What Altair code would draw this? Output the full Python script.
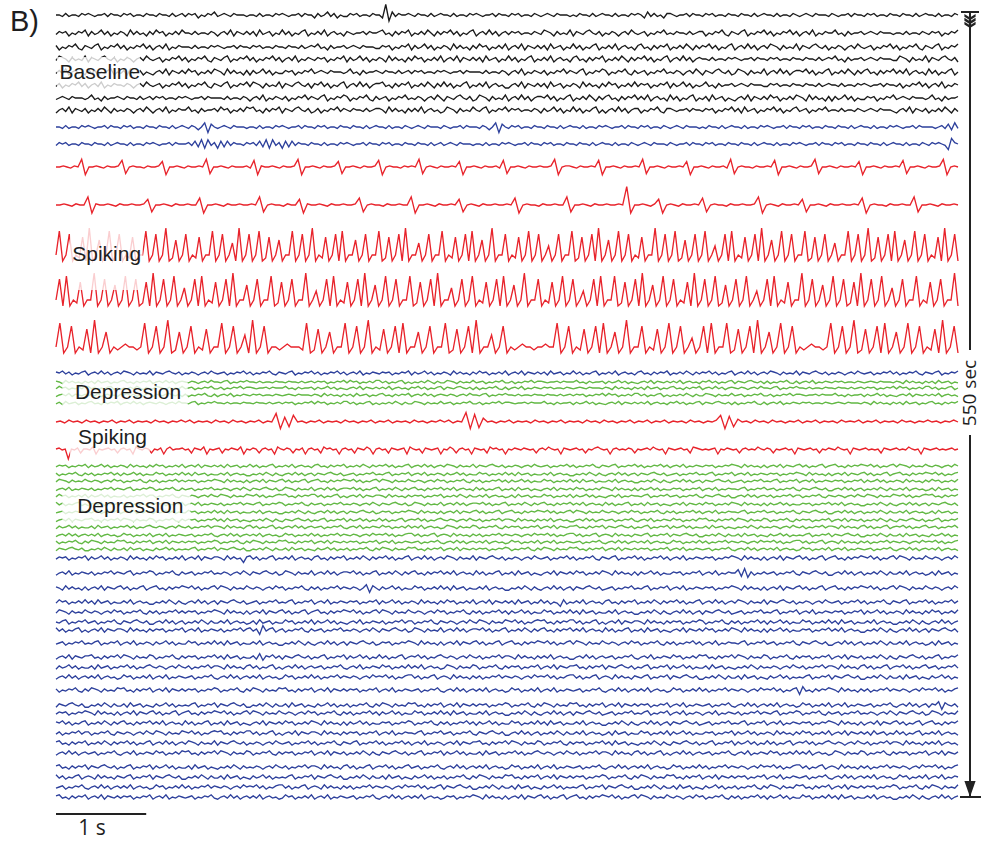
import altair as alt
import pandas as pd

# ---------------- data ----------------
# typed 10-sample snippets of background EEG (level 5 = trace baseline)
noise_chunks = {
    "A": "4656354657", "B": "3645746354", "C": "6537464536", "D": "4756354647",
    "E": "3564736546", "F": "4637456354", "G": "7463546735", "H": "4647356453",
    "I": "6745364657", "J": "3546475364", "K": "6574635467", "L": "3564746356",
    "M": "4765364547", "N": "3654675463", "O": "5465356475", "P": "4563546574",
    "Q": "6354657436", "R": "5467354657", "S": "4635465746", "T": "3564735465",
    "U": "5546455465", "V": "6545564655", "W": "4656455465", "X": "5465546456",
    "Y": "5745364556", "Z": "4565465554",
    "a": "53c1746556", "b": "5647382846", "c": "2737465546", "d": "5545647384",
    "e": "4656541965", "f": "6537464516", "g": "5829163546", "h": "5465358175",
    "i": "7463541735", "j": "7461946735", "k": "4638265746", "l": "1845364657",
    "m": "3658175463",
}

# one entry per trace, top to bottom
trace_groups = (["k"] * 8 + ["b"] * 2 + ["r"] * 5 + ["b"] + ["g"] * 4 + ["r"] * 2
                + ["g"] * 12 + ["b"] * 22)
trace_offsets = [15, 33, 47, 59, 72, 85, 98, 110,
                 127, 144,
                 167, 205, 255, 300, 347,
                 373,
                 382, 388, 395, 403,
                 422, 449,
                 466, 474, 481, 489, 496, 504, 512, 520, 527, 535, 542, 549,
                 558, 573, 588, 602, 612, 622, 630, 643, 657, 667, 677,
                 690, 705, 713, 723, 733, 743, 753, 767, 777, 787, 797]
trace_gains = ([1.5] * 8 + [1.4] * 2 + [1.1, 1.15, 3.0, 3.0, 3.0] + [1.0] + [0.8] * 4
               + [0.95, 1.0] + [0.85] * 12 + [1.1] * 22)
trace_centers = ([5] * 10 + [7, 7, 2, 2, 2] + [5] * 5 + [7, 10] + [5] * 34)
# "c:" = sequence of snippets from noise_chunks, "s:" = samples typed directly
trace_samples = [
    # black (baseline)
    "c:UVWXAZUVBWaXUVWZXUCVWXUZVWXU",
    "c:ABCDUEFGHVIJKLWMNOPXQRSTYZUA",
    "c:QRSTUVWXYZABCDEFGHIJKLMNOPQR",
    "c:MNOPQRSTABCDEFGHIJKLUVWXYZMN",
    "c:HGFEDCBAZYXWVUTSRQPONMLKJIHG",
    "c:STOPQRMNKLIJGHEFCDABYZWXUVST",
    "c:ZYXWVUTSRQPONMLKJIHGFEDCBAZY",
    "c:EJOTYDINSXCHMRWBGLQVAFKPUZEJ",
    # blue
    "c:UVWXhZUVWXUZVhWXUVWZXUVWXUVd",
    "c:WXUVbcbcUVWXZUVWXUZVWXUVWXUe",
    # red spiking
    "s:7787687e0778768778d1787768778c07787687787e177876877786d08778768778e0778768778c1778768778d07877687"
    "87e1787687787c07787687786d1778768778778e07887687787d07787687787e17787687787c07787687786e178776877"
    "87d0778768778e17787687787c07787687787d1778768778e0787",
    "s:77876877e08778768778778c177876877877d07787687787787e178776877c08778768778778d178776877877e0778768"
    "7787c1787687787787d078776877877e17787687787787n0778768c0787687787d1787768778778e0787687787c177876"
    "87787787d078776877877e17787687787",
    "s:2a02902180b02702a0290218022a02902b0170290218022a0290260b02902a018027022a02902b02180290a0227029022a"
    "0180290b0226029022a02180290a02702b0229021802a029025029022a0180290b02702a0290218022b02902a0170290"
    "2a0250290a02180290b02702a029022a018029026022a02902b0180290a02702a02902180b0290",
    "s:290a0218022b02902702a0290180b02902a0260290a02180290b0227029022a018029022b0250290a02180290b02702a0"
    "29022a0180290b022602902a02180290a02702b0229021802a0290250290a022a0180290b02702a02902180b02902a01"
    "702902a0250290a0218022b02902702a0290180b02902a026029022a0218029022b0",
    "s:2a02902180b027021232212a02902b0170290218022a0290260b0290221232221a018027022a02902b02180290a02270"
    "29022a0180290b02260290212322122322a02902180290a02702b0229021802a0290250290a022a0180290b02702a0290"
    "21232212a02902b0180290a02702a02902180b0290",
    # blue
    "c:KLMNOPQRSTABCDEFGHIJKLMNOPQR",
    # green depression
    "c:CFILORUXADGJMPSVYBEHKNQTWZCF",
    "c:DGJMPSVYBEHKNQTWZCFILORUXADG",
    "c:EHKNQTWZCFILORUXADGJMPSVYBEH",
    "c:FILORUXADGJMPSVYBEHKNQTWZCFI",
    # red spiking (second episode)
    "s:78697869786879687968786978687979687869786978687968"
    "7g0c2e78687968786978687968796878697868797968 7h0f1b"
    "78687968786978687968786978697868796879687968786978"
    "6879e0d2a786978697868796879687869787968796878697868797868797",
    "s:ab9a0a9b6aa9c5a9ab9a6ab9a5ca9ba6a9b5ac9aab9a6ba9c5a9ab6a9ba9c5a9ba6ab9a5ca9ba6a9b5ab9a6cab9a5ab9a6"
    "ba9ca5ab9a6ba9ab5ca9a6ba9ab5a9ca6ab9a5ba9a6cab9a5a9ba9ba9a6ab9ca9a5ba9ab9a6a9bca9a5ab9a9ba6a9ab9c"
    "a9a5ba9ab9a6cba9a9ab5a9ba9a6ab9a9ca9ba6a9ab9a5ba9ab9a6a9ba9ca9a5ba9ab9a9a6ba9ab9a9ca9a5ba9ab9a9ab9a",
    # green depression
    "c:ABCDEFGHIJKLMNOPQRSTACEGIKMO",
    "c:QSBDFHJLNPRTBDFHJLNPRTACEGIK",
    "c:MOQSACEGIKMOQSBDFHJLNPRTABCD",
    "c:TSRQPONMLKJIHGFEDCBATRPNLJHF",
    "c:DBSQOMKIGECAJHFDBTRPNLSQOMKI",
    "c:GECATSRQPONMLKJIHGFEDCBAHJLN",
    "c:PRTBDFHJLNACEGIKMOQSTRPNLJHF",
    "c:EIMQAFJNRBGKOSCHLPTDIMQAEJNR",
    "c:BFKOSCGLPTDHMQAEINRBFJOSCGKP",
    "c:LHDTPLHDSOKGCSOKGCRNJFBRNJFB",
    "c:QMIEAQMIEATPLHDTPLHDSOKGCSOK",
    "c:NJFBRNJFBQMIEAQMIEATPLHDTPLH",
    # blue (recovery)
    "c:ABCDEfGHIJKLMNOPQRSTACEGIKMO",
    "c:TSRQPONMLKJIHGFEDCBATgPNLJHF",
    "c:CEGIKMOQShBDFHJLNPRTACEGIKMO",
    "c:DFHJLNPRTABCDEFiHIJKLMNOPQRS",
    "c:MOQSACEGIKMOQSBDFHJLNPRTABCD",
    "c:RPNLJHFDBTSQOMKIGECAQSBDFHJL",
    "c:GECATSjQPONMLKJIHGFEDCBAHJLN",
    "c:PRTBDFHJLNACEGIKMOQSTRPNLJHF",
    "c:EIMQAFkNRBGKOSCHLPTDIMQAEJNR",
    "c:BFKOSCGLPTDHMQAEINRBFJOSCGKP",
    "c:LHDTPLHDSOKGCSOKGCRNJFBRNJFB",
    "c:QMIEAQMIEATPLHDTPLHDSOKlCSOK",
    "c:NJFBRNJFBQMIEAQMIEATPLHDTPLm",
    "c:ACEGIKMOQSBDFHJLNPRTTSRQPONM",
    "c:KJIHGFEDCBAQSBDFHJLNPRTACEGI",
    "c:SQOMKIGECATRPNLJHFDBABCDEFGH",
    "c:IJKLMNOPQRSTEIMQAFJNRBGKOSCH",
    "c:LPTDIMQAEJNRBFKOSCGLPTDHMQAE",
    "c:INRBFJOSCGKPLHDTPLHDSOKGCSOK",
    "c:GCRNJFBRNJFBQMIEAQMIEATPLHDT",
    "c:PLHDSOKGCSOKNJFBRNJFBQMIEAQM",
    "c:IEATPLHDTPLHACEGIKMOQSBDFHJL",
]

group_domain = ["k", "b", "r", "g"]
group_colors = ["#1a1a1a", "#2d409c", "#e8232b", "#62b844"]

record_seconds = 10.0

# annotation labels
label_texts = ["Baseline", "Spiking", "Depression", "Spiking", "Depression"]
label_t = [0.04, 0.18, 0.21, 0.245, 0.235]
label_y = [73, 255, 393, 438, 507]
box_t1 = [0.01, 0.155, 0.07, 0.155, 0.07]
box_t2 = [0.93, 0.96, 1.46, 1.04, 1.49]
box_y1 = [57, 228, 378, 426, 491]
box_y2 = [89, 290, 408, 458, 522]

# ---------------- build table ----------------
def decode(spec):
    kind, body = spec[:2], spec[2:].replace(" ", "")
    if kind == "c:":
        return "".join(noise_chunks[ch] for ch in body)
    return body

rows = []
for i, (g, off, gain, c, spec) in enumerate(zip(trace_groups, trace_offsets, trace_gains,
                                                trace_centers, trace_samples)):
    s = decode(spec)
    n = len(s)
    for j, ch in enumerate(s):
        rows.append({"trace": i, "group": g,
                     "t": record_seconds * j / (n - 1),
                     "y": off - (int(ch, 36) - c) * gain})
df = pd.DataFrame(rows)

W, H = 981, 842
X0, PXS = 56.0, 90.2
xs = alt.Scale(domain=[-X0 / PXS, (W - X0) / PXS], nice=False, zero=False)
ys = alt.Scale(domain=[0, H], reverse=True, nice=False, zero=False)

def X(f="t"):
    return alt.X(f, type="quantitative", scale=xs, axis=None)

def Y(f="y"):
    return alt.Y(f, type="quantitative", scale=ys, axis=None)

lines = alt.Chart(df).mark_line(strokeWidth=1.35, interpolate="linear").encode(
    x=X(), y=Y(), detail="trace:N",
    color=alt.Color("group:N", scale=alt.Scale(domain=group_domain, range=group_colors),
                    legend=None),
)

lab = pd.DataFrame({"text": label_texts, "t": label_t, "y": label_y,
                    "t1": box_t1, "t2": box_t2, "y1": box_y1, "y2": box_y2})
boxes = alt.Chart(lab).mark_rect(color="white", opacity=0.78).encode(
    x=X("t1"), x2="t2", y=Y("y1"), y2="y2")
texts = alt.Chart(lab).mark_text(align="left", baseline="middle", fontSize=21,
                                 font="Liberation Sans", color="#1e1e1e").encode(
    x=X("t"), y=Y("y"), text="text:N")

# panel letter
panel = alt.Chart(pd.DataFrame({"t": [-0.51], "y": [22], "s": ["B)"]})).mark_text(
    align="left", baseline="middle", fontSize=29, font="Liberation Sans", color="#1e1e1e"
).encode(x=X(), y=Y(), text="s:N")

# time scale bar
tbar = alt.Chart(pd.DataFrame({"t": [0.0], "t2": [1.0], "y": [814]})).mark_rule(
    strokeWidth=2, color="#222").encode(x=X(), x2="t2", y=Y())
ttext = alt.Chart(pd.DataFrame({"t": [0.4], "y": [829], "s": ["1 s"]})).mark_text(
    align="center", baseline="middle", fontSize=21, font="Open Sans", color="#1e1e1e"
).encode(x=X(), y=Y(), text="s:N")

# recording-duration bar
VX = (970 - X0) / PXS
vbar = alt.Chart(pd.DataFrame({"t": [VX, VX], "y": [12, 435], "y2": [350, 797]})).mark_rule(
    strokeWidth=2, color="#222").encode(x=X(), y=Y(), y2="y2")
ticks = alt.Chart(pd.DataFrame({"t": [(961 - X0) / PXS, (960 - X0) / PXS],
                                "t2": [(979 - X0) / PXS, (981 - X0) / PXS],
                                "y": [12, 797]})).mark_rule(
    strokeWidth=2, color="#222").encode(x=X(), x2="t2", y=Y())
chevron = ("M-0.8,-1L0,-0.5L0.8,-1L0.8,-0.6L0,-0.1L-0.8,-0.6Z "
           "M-0.8,-0.45L0,0.05L0.8,-0.45L0.8,-0.05L0,0.45L-0.8,-0.05Z "
           "M-0.8,0.1L0,0.6L0.8,0.1L0.8,0.5L0,1L-0.8,0.5Z")
top_arrow = alt.Chart(pd.DataFrame({"t": [VX], "y": [21]})).mark_point(
    shape=chevron, filled=True, size=196, color="#222", opacity=1).encode(x=X(), y=Y())
bot_arrow = alt.Chart(pd.DataFrame({"t": [VX], "y": [789]})).mark_point(
    shape="M-0.7,-1L0.7,-1L0,1Z", filled=True, size=256, color="#222", opacity=1
).encode(x=X(), y=Y())
vtext = alt.Chart(pd.DataFrame({"t": [VX], "y": [393], "s": ["550 sec"]})).mark_text(
    angle=270, align="center", baseline="middle", fontSize=19, font="Open Sans",
    color="#1e1e1e").encode(x=X(), y=Y(), text="s:N")

chart = alt.layer(lines, boxes, texts, panel, tbar, ttext, vbar, ticks, top_arrow,
                  bot_arrow, vtext).properties(
    width=W, height=H, padding=0, autosize=alt.AutoSizeParams(type="none")
).configure_view(stroke=None)

chart.save("out.html", embed_options={"renderer": "svg", "actions": False})
